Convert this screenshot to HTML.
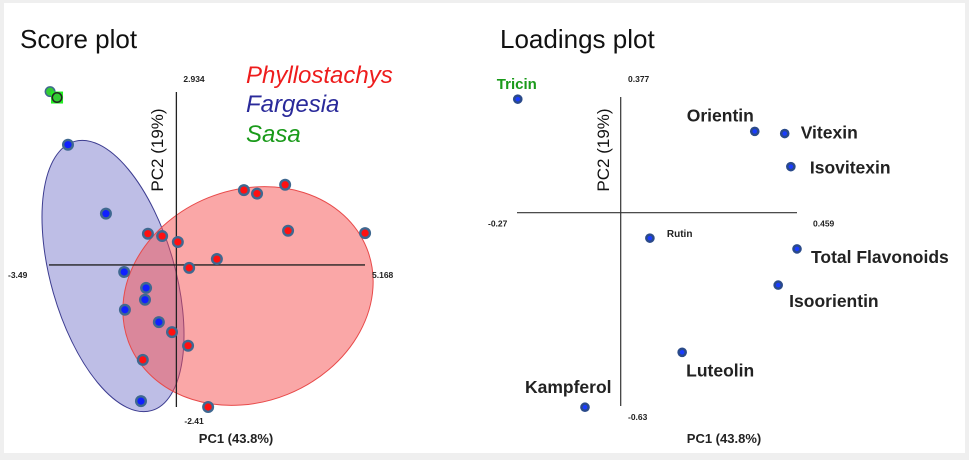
<!DOCTYPE html>
<html><head><meta charset="utf-8"><style>
html,body{margin:0;padding:0;background:#efefef;}
svg{display:block;font-family:"Liberation Sans",Arial,sans-serif;}
</style></head><body>
<svg width="969" height="460" viewBox="0 0 969 460">
<rect x="4" y="3" width="961" height="450" fill="#fff"/>
<text x="20" y="48" font-size="26" fill="#111">Score plot</text>
<text x="500" y="48" font-size="26" fill="#111">Loadings plot</text>
<g id="score">
<ellipse cx="113" cy="276" rx="62" ry="140" transform="rotate(-16 113 276)" fill="rgba(110,110,200,0.45)" stroke="#3c3c90" stroke-width="1"/>
<ellipse cx="248" cy="296" rx="128" ry="106" transform="rotate(-22 248 296)" fill="rgba(245,80,80,0.5)" stroke="#e84a4a" stroke-width="1"/>
</g>
<g id="load"></g>
<text x="246" y="83" font-size="24" font-style="italic" fill="#ee1c1c">Phyllostachys</text>
<text x="246" y="112" font-size="24" font-style="italic" fill="#2a2a9a">Fargesia</text>
<text x="246" y="142" font-size="24" font-style="italic" fill="#1a9a1a">Sasa</text>
<text x="236" y="443" font-size="13" font-weight="bold" text-anchor="middle" fill="#222">PC1 (43.8%)</text>
<text x="724" y="443" font-size="13" font-weight="bold" text-anchor="middle" fill="#222">PC1 (43.8%)</text>
<text transform="translate(163,150) rotate(-90)" font-size="17" text-anchor="middle" fill="#111">PC2 (19%)</text>
<text transform="translate(609,150) rotate(-90)" font-size="17" text-anchor="middle" fill="#111">PC2 (19%)</text>
</svg>
<script>
// Score plot data
const redX=[1.85,2.21,2.98,3.06,5.17,-0.78,-0.39,0.04,1.11,0.35,-0.12,0.32,-0.92,0.87];
const redY=[1.27,1.21,1.36,0.58,0.54,0.53,0.49,0.39,0.10,-0.05,-1.14,-1.37,-1.61,-2.41];
const blueX=[-2.97,-1.93,-1.43,-0.83,-0.86,-1.41,-0.48,-0.97];
const blueY=[2.04,0.87,-0.12,-0.39,-0.59,-0.76,-0.97,-2.31];
const greenX=[-3.46,-3.27];
const greenY=[2.94,2.84];
const scoreXRange=[-3.49,5.168];
const scoreYRange=[-2.41,2.934];
// Loadings data
const loadNames=["Tricin","Orientin","Vitexin","Isovitexin","Rutin","Total Flavonoids","Isoorientin","Luteolin","Kampferol"];
const loadX=[-0.268,0.349,0.427,0.443,0.076,0.459,0.41,0.16,-0.093];
const loadY=[0.37,0.265,0.258,0.150,-0.083,-0.118,-0.236,-0.455,-0.634];
const loadXRange=[-0.27,0.459];
const loadYRange=[-0.63,0.377];

const NS="http://www.w3.org/2000/svg";
function mk(tag,attrs,parent){const e=document.createElementNS(NS,tag);for(const k in attrs)e.setAttribute(k,attrs[k]);parent.appendChild(e);return e;}
const sx=v=>49+(v-scoreXRange[0])*(316/(scoreXRange[1]-scoreXRange[0]));
const sy=v=>407-(v-scoreYRange[0])*(315/(scoreYRange[1]-scoreYRange[0]));
const lx=v=>517+(v-loadXRange[0])*(280/(loadXRange[1]-loadXRange[0]));
const ly=v=>406-(v-loadYRange[0])*(309/(loadYRange[1]-loadYRange[0]));
const S=document.getElementById('score'), L=document.getElementById('load');

let e;
e=mk('line',{x1:sx(scoreXRange[0]),x2:sx(scoreXRange[1]),y1:sy(0),y2:sy(0),stroke:'#222','stroke-width':1.3},S);


e=mk('line',{x1:sx(0),x2:sx(0),y1:sy(scoreYRange[1]),y2:sy(scoreYRange[0]),stroke:'#222','stroke-width':1.3},S);


const sTicks=[[scoreYRange[1].toString(),sx(0)+7,sy(scoreYRange[1])-10],[scoreXRange[0].toString(),8,sy(0)+13],[scoreXRange[1].toString(),372,sy(0)+13],[scoreYRange[0].toString(),sx(0)+8,sy(scoreYRange[0])+17]];
sTicks.forEach(t=>{e=mk('text',{x:t[1],y:t[2],'font-size':8.5,'font-weight':'bold',fill:'#222'},S);e.textContent=t[0];

});
function pt(x,y,fill,name){
 const g=mk('g',{},S);
 
 
 mk('circle',{cx:sx(x),cy:sy(y),r:6,fill:'#3f6890'},g);
 mk('circle',{cx:sx(x),cy:sy(y),r:3.6,fill:fill},g);
}
redX.forEach((v,i)=>pt(v,redY[i],'#ff1010','phyllostachys-point'));
blueX.forEach((v,i)=>pt(v,blueY[i],'#1020ff','fargesia-point'));
greenX.forEach((v,i)=>{
 if(i===1){e=mk('rect',{x:sx(v)-6,y:sy(greenY[i])-6,width:12,height:12,fill:'#22ee22'},S);
 
 }
 const g=mk('g',{},S);
 
 
 mk('circle',{cx:sx(v),cy:sy(greenY[i]),r:5.5,fill:i===1?'#222':'#3f6890'},g);
 mk('circle',{cx:sx(v),cy:sy(greenY[i]),r:4,fill:'#33cc33'},g);
});

e=mk('line',{x1:lx(loadXRange[0]),x2:lx(loadXRange[1]),y1:ly(0),y2:ly(0),stroke:'#333','stroke-width':1.2},L);


e=mk('line',{x1:lx(0),x2:lx(0),y1:ly(loadYRange[1]),y2:ly(loadYRange[0]),stroke:'#333','stroke-width':1.2},L);


const lTicks=[[loadYRange[1].toString(),628,ly(loadYRange[1])-15],[loadXRange[0].toString(),488,ly(0)+14],[loadXRange[1].toString(),813,ly(0)+14],[loadYRange[0].toString(),628,ly(loadYRange[0])+14]];
lTicks.forEach(t=>{e=mk('text',{x:t[1],y:t[2],'font-size':8.5,'font-weight':'bold',fill:'#222'},L);e.textContent=t[0];

});
// label offsets relative to point (styling only)
const lblOff=[[-21,-10],[-68,-10],[16,5],[19,7],[17,-1],[14,14],[11,22],[4,24],[-60,-14]];
loadX.forEach((v,i)=>{
 const g=mk('g',{},L);
 
 
 mk('circle',{cx:lx(v),cy:ly(loadY[i]),r:4.8,fill:'#2a4a8a'},g);
 mk('circle',{cx:lx(v),cy:ly(loadY[i]),r:2.3,fill:'#1a3cff'},g);
 const small=loadNames[i]==='Rutin', tric=loadNames[i]==='Tricin';
 const t=mk('text',{x:lx(v)+lblOff[i][0],y:ly(loadY[i])+lblOff[i][1],'font-size':small?10:(tric?15:17.5),'font-weight':'bold',fill:tric?'#1a9a1a':'#222'},L);
 t.textContent=loadNames[i];
 
 
});
</script>
</body></html>
